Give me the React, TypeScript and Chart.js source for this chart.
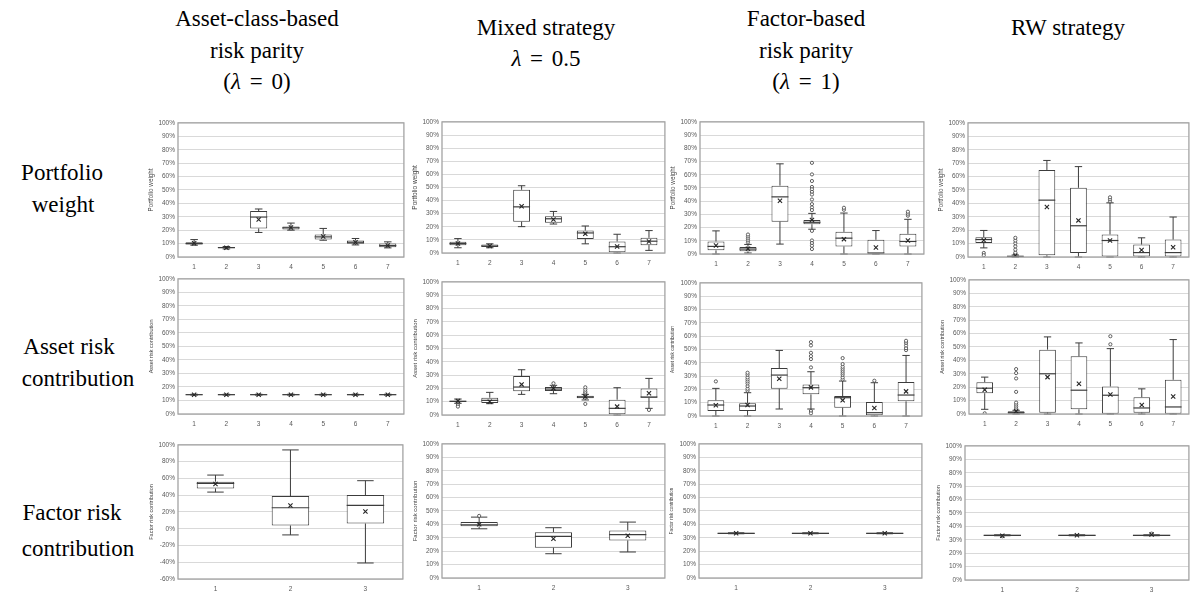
import React, { useEffect, useRef } from 'react';
import { Chart, registerables } from 'chart.js';

Chart.register(...registerables);

// ---------- categories ----------
const assetLabels = ['1', '2', '3', '4', '5', '6', '7'];
const factorLabels = ['1', '2', '3'];

// ---------- box statistics: [min, q1, median, q3, max] (in %) ----------
// Row 1: Portfolio weight
const wRpBox = [
  [8.8, 9.3, 10, 11, 13],
  [6, 6.6, 7, 7.3, 7.8],
  [18.3, 21.3, 29.8, 34.3, 35.8],
  [20, 20.5, 21.8, 22.8, 25.3],
  [12.5, 13, 15, 16.8, 21.3],
  [9, 9.8, 11, 12.3, 13.8],
  [6.8, 7.3, 8.5, 10, 11.3],
];
const wRpMean = [10.3, 6.9, 28, 22, 15.3, 11, 8.6];
const wRpOut: number[][] = [[], [], [], [], [], [], []];

const wMixBox = [
  [4, 6, 7.2, 8.5, 11],
  [4, 4.5, 5.3, 6.5, 7],
  [20.1, 23.9, 35.2, 48.2, 51.3],
  [22.1, 23.1, 26.1, 28.1, 31.7],
  [7, 10.6, 15.3, 17.1, 20.6],
  [0, 0.5, 4.8, 8.8, 14.3],
  [2, 6, 9, 11.6, 17.1],
];
const wMixMean = [7.2, 5.3, 35.7, 25.5, 14.6, 5, 8.8];
const wMixOut: number[][] = [[], [], [], [], [], [], []];

const wFacBox = [
  [0, 2.75, 5.75, 9.5, 17.5],
  [0.75, 2, 3.75, 5.25, 7.25],
  [7.5, 24.5, 43.25, 51.75, 68.25],
  [18.75, 22.5, 24, 25.75, 30.75],
  [0, 5.75, 12, 16.75, 31],
  [0, 0.25, 0.75, 10.75, 17.75],
  [0, 5.75, 9.5, 15.25, 26.25],
];
const wFacMean = [6.5, 4, 40.25, 25.75, 11.25, 5, 10.25];
const wFacOut = [
  [],
  [8.75, 10.25, 11.75, 13.25, 14.75],
  [],
  [69, 60.25, 55.25, 50.75, 49, 47, 45, 41.25, 37.75, 35.25, 33.25, 17.5, 10.25, 8.25, 6.25, 3.75],
  [33.5, 35],
  [],
  [29, 30.5, 32],
];

const wRwBox = [
  [6.8, 10.5, 13, 14.8, 19.8],
  [0, 0.2, 0.5, 1, 1.5],
  [0, 1.3, 42.4, 64.9, 72],
  [0, 3, 23.3, 51.6, 67.4],
  [0, 0, 12.3, 16.8, 40.4],
  [0, 0.3, 3.3, 9.3, 14.3],
  [0, 0.3, 3.3, 13, 29.8],
];
const wRwMean = [12.5, 1, 37.3, 27.3, 12.3, 5.3, 7.3];
const wRwOut = [[3, 1.3], [3.3, 5.5, 8, 10.3, 12.3, 14.3], [], [], [41.5, 43, 44.5], [], []];

// Row 2: Asset risk contribution
const rcRpBox = [
  [14.0, 14.0, 14.29, 14.6, 14.6],
  [14.0, 14.0, 14.29, 14.6, 14.6],
  [14.0, 14.0, 14.29, 14.6, 14.6],
  [14.0, 14.0, 14.29, 14.6, 14.6],
  [14.0, 14.0, 14.29, 14.6, 14.6],
  [14.0, 14.0, 14.29, 14.6, 14.6],
  [14.0, 14.0, 14.29, 14.6, 14.6],
];
const rcRpMean = [14.29, 14.29, 14.29, 14.29, 14.29, 14.29, 14.29];
const rcRpOut: number[][] = [[], [], [], [], [], [], []];

const rcMixBox = [
  [8.8, 9.8, 10.3, 10.8, 12],
  [8.5, 9, 11, 13, 17],
  [15.5, 17.8, 21, 29.3, 34],
  [16, 18, 19.5, 21, 22.3],
  [11.3, 12.5, 13.5, 14.5, 15.5],
  [0, 0.5, 5, 11.5, 20.5],
  [5, 13, 13.5, 20, 27.5],
];
const rcMixMean = [10.5, 10, 23, 20, 13.8, 6.3, 16.3];
const rcMixOut = [[7.5, 6.3], [], [], [23.8], [16.5, 17.5, 19, 20.8, 8.3], [], [3.8]];

const rcFacBox = [
  [0, 3.75, 8.25, 11.75, 20.75],
  [0, 3.75, 7.5, 9.5, 17.5],
  [5.25, 20.5, 30.75, 36, 49.25],
  [5.25, 16.25, 21.25, 23.75, 33.25],
  [0, 6.25, 13.75, 15, 26.25],
  [0, 0.5, 2.5, 10.5, 25],
  [0, 11, 15.75, 25.5, 45.5],
];
const rcFacMean = [8, 8.25, 28, 21.5, 11.75, 6, 18.5];
const rcFacOut = [
  [26],
  [19, 20.5, 22.5, 24.5, 26, 27.5, 29, 31, 32.5],
  [],
  [36.5, 42.75, 45, 47.5, 53, 55.5, 3.75, 2],
  [27.5, 29, 31, 32.5, 34, 35.5, 37, 39, 43.5],
  [26.5],
  [49.5, 51, 53, 55, 56.5],
];

const rcRwBox = [
  [3.5, 15.5, 19.25, 23.75, 27.5],
  [0, 0.25, 1, 2, 2.75],
  [0, 1, 30, 48, 57.5],
  [0, 3.5, 17.75, 43, 53],
  [0, 0.25, 14, 20.5, 48.75],
  [0, 1, 4.5, 12.5, 18.75],
  [0, 0.25, 5.25, 25.5, 55.5],
];
const rcRwMean = [18, 2, 27.5, 22.5, 14.5, 6.75, 13];
const rcRwOut = [[0.5], [4, 5.5, 7, 8.5, 16.5, 26.5, 30.5, 33.5], [], [], [52, 58], [], []];

// Row 3: Factor risk contribution
const frRpBox = [
  [43.7, 48.1, 54, 56.1, 64],
  [-7.4, 3.8, 25, 39, 94],
  [-40.9, 6.2, 27.8, 40.1, 57.3],
];
const frRpMean = [53.3, 27.8, 20.6];
const frRpOut: number[][] = [[], [], []];

const frMixBox = [
  [36.7, 38.5, 39.7, 41.7, 45.4],
  [18.1, 22.6, 31, 34.2, 37.5],
  [19.4, 28, 32.3, 35.5, 41.7],
];
const frMixMean = [40, 29.3, 31.5];
const frMixOut = [[46.3], [], []];

const frFacBox = [
  [33.0, 33.0, 33.33, 33.7, 33.7],
  [33.0, 33.0, 33.33, 33.7, 33.7],
  [33.0, 33.0, 33.33, 33.7, 33.7],
];
const frFacMean = [33.33, 33.33, 33.33];
const frFacOut: number[][] = [[], [], []];

const frRwBox = [
  [33.0, 33.0, 33.33, 33.7, 33.7],
  [33.0, 33.0, 33.33, 33.7, 33.7],
  [33.0, 33.0, 33.33, 33.7, 33.7],
];
const frRwMean = [33.0, 33.33, 34.0];
const frRwOut = [[32.6], [], [34.6]];

// ---------- text ----------
const yTitles = ['Portfolio weight', 'Asset risk contribution', 'Factor risk contribution'];

// ---------- styling ----------
const BOX = '#3c3c3c';
const TICK = '#595959';
const GRID = '#d9d9d9';
const FRAME = '#a3a3a3';
const SANS = "'Liberation Sans', Arial, sans-serif";
const SERIF = "'Liberation Serif', 'Times New Roman', serif";
const PAD_L = 40;
const PAD_T = 6;
const PAD_R = 4;
const PAD_B = 18;

type Panel = {
  labels: string[];
  box: number[][];
  mean: number[];
  out: number[][];
  title: string;
  rect: number[];
  yMin: number;
  yMax: number;
  yStep: number;
  titleSize: number;
  barPct: number;
};

const panels: Panel[] = [
  { labels: assetLabels, box: wRpBox, mean: wRpMean, out: wRpOut, title: yTitles[0], rect: [178, 122, 405, 257], yMin: 0, yMax: 100, yStep: 10, titleSize: 6.3, barPct: 0.53 },
  { labels: assetLabels, box: wMixBox, mean: wMixMean, out: wMixOut, title: yTitles[0], rect: [442, 121, 666, 253], yMin: 0, yMax: 100, yStep: 10, titleSize: 6.5, barPct: 0.53 },
  { labels: assetLabels, box: wFacBox, mean: wFacMean, out: wFacOut, title: yTitles[0], rect: [700, 121, 925, 254], yMin: 0, yMax: 100, yStep: 10, titleSize: 6.3, barPct: 0.53 },
  { labels: assetLabels, box: wRwBox, mean: wRwMean, out: wRwOut, title: yTitles[0], rect: [968, 122, 1190, 257], yMin: 0, yMax: 100, yStep: 10, titleSize: 6.3, barPct: 0.53 },
  { labels: assetLabels, box: rcRpBox, mean: rcRpMean, out: rcRpOut, title: yTitles[1], rect: [178, 278, 405, 414], yMin: 0, yMax: 100, yStep: 10, titleSize: 5.5, barPct: 0.53 },
  { labels: assetLabels, box: rcMixBox, mean: rcMixMean, out: rcMixOut, title: yTitles[1], rect: [442, 281, 666, 415], yMin: 0, yMax: 100, yStep: 10, titleSize: 6, barPct: 0.53 },
  { labels: assetLabels, box: rcFacBox, mean: rcFacMean, out: rcFacOut, title: yTitles[1], rect: [700, 282, 923, 416], yMin: 0, yMax: 100, yStep: 10, titleSize: 4.8, barPct: 0.53 },
  { labels: assetLabels, box: rcRwBox, mean: rcRwMean, out: rcRwOut, title: yTitles[1], rect: [969, 279, 1190, 414], yMin: 0, yMax: 100, yStep: 10, titleSize: 5.5, barPct: 0.53 },
  { labels: factorLabels, box: frRpBox, mean: frRpMean, out: frRpOut, title: yTitles[2], rect: [178, 444, 404, 579], yMin: -60, yMax: 100, yStep: 20, titleSize: 5.5, barPct: 0.5 },
  { labels: factorLabels, box: frMixBox, mean: frMixMean, out: frMixOut, title: yTitles[2], rect: [442, 443, 666, 578], yMin: 0, yMax: 100, yStep: 10, titleSize: 6, barPct: 0.5 },
  { labels: factorLabels, box: frFacBox, mean: frFacMean, out: frFacOut, title: yTitles[2], rect: [699, 443, 923, 578], yMin: 0, yMax: 100, yStep: 10, titleSize: 4.6, barPct: 0.5 },
  { labels: factorLabels, box: frRwBox, mean: frRwMean, out: frRwOut, title: yTitles[2], rect: [965, 445, 1190, 580], yMin: 0, yMax: 100, yStep: 10, titleSize: 5.5, barPct: 0.5 },
];

function BoxPanel({ p }: { p: Panel }) {
  const ref = useRef<HTMLCanvasElement>(null);
  const [l, t, r, b] = p.rect;
  const w = r - l + PAD_L + PAD_R;
  const h = b - t + PAD_T + PAD_B;

  useEffect(() => {
    if (!ref.current) return;
    const stats = p.box;
    const whiskerPlugin = {
      id: 'whiskers',
      afterDatasetDraw(chart: any, args: any) {
        if (args.index !== 0) return;
        const meta = chart.getDatasetMeta(0);
        const ys = chart.scales.y;
        const ctx = chart.ctx;
        ctx.save();
        ctx.strokeStyle = BOX;
        ctx.lineWidth = 1;
        meta.data.forEach((el: any, i: number) => {
          const s = stats[i];
          const { x, width } = el.getProps(['x', 'width'], true);
          const pMin = ys.getPixelForValue(s[0]);
          const pQ1 = ys.getPixelForValue(s[1]);
          const pMed = ys.getPixelForValue(s[2]);
          const pQ3 = ys.getPixelForValue(s[3]);
          const pMax = ys.getPixelForValue(s[4]);
          const cap = width * 0.22;
          ctx.beginPath();
          ctx.moveTo(x, pQ3);
          ctx.lineTo(x, pMax);
          ctx.moveTo(x - cap, pMax);
          ctx.lineTo(x + cap, pMax);
          ctx.moveTo(x, pQ1);
          ctx.lineTo(x, pMin);
          ctx.moveTo(x - cap, pMin);
          ctx.lineTo(x + cap, pMin);
          ctx.stroke();
          ctx.beginPath();
          ctx.lineWidth = 1.2;
          ctx.moveTo(x - width / 2, pMed);
          ctx.lineTo(x + width / 2, pMed);
          ctx.stroke();
          ctx.lineWidth = 1;
        });
        ctx.restore();
      },
      afterDraw(chart: any) {
        const a = chart.chartArea;
        const ctx = chart.ctx;
        ctx.save();
        ctx.strokeStyle = FRAME;
        ctx.lineWidth = 1.3;
        ctx.strokeRect(a.left, a.top, a.right - a.left, a.bottom - a.top);
        ctx.restore();
      },
    };

    const outPts: { x: string; y: number }[] = [];
    p.out.forEach((vals, i) => vals.forEach((v) => outPts.push({ x: p.labels[i], y: v })));

    const chart = new Chart(ref.current, {
      type: 'bar',
      data: {
        labels: p.labels,
        datasets: [
          {
            type: 'bar',
            data: p.box.map((s) => [s[1], s[3]]),
            backgroundColor: '#ffffff',
            borderColor: BOX,
            borderWidth: 1,
            borderSkipped: false,
            barPercentage: p.barPct,
            categoryPercentage: 1,
            order: 3,
          } as any,
          {
            type: 'line',
            data: p.mean,
            showLine: false,
            pointStyle: 'crossRot',
            pointRadius: 3,
            borderColor: '#262626',
            borderWidth: 1.1,
            order: 1,
          } as any,
          {
            type: 'line',
            data: outPts,
            showLine: false,
            pointStyle: 'circle',
            pointRadius: 1.6,
            borderColor: BOX,
            backgroundColor: '#ffffff',
            borderWidth: 0.8,
            order: 2,
          } as any,
        ],
      },
      options: {
        responsive: false,
        animation: false,
        events: [],
        layout: { padding: { top: PAD_T, right: PAD_R, left: 0, bottom: 0 } },
        plugins: { legend: { display: false }, tooltip: { enabled: false } },
        scales: {
          x: {
            type: 'category',
            offset: true,
            grid: { display: false, drawTicks: false },
            border: { display: false },
            ticks: { color: TICK, font: { size: 6.5, family: SANS }, padding: 6, maxRotation: 0, autoSkip: false },
            afterFit: (s: any) => {
              s.height = PAD_B;
            },
          },
          y: {
            min: p.yMin,
            max: p.yMax,
            grid: { color: GRID, lineWidth: 1, drawTicks: false },
            border: { display: false },
            ticks: {
              stepSize: p.yStep,
              color: TICK,
              font: { size: 6.5, family: SANS },
              padding: 3,
              callback: (v: any) => `${v}%`,
            },
            title: {
              display: true,
              text: p.title,
              color: '#404040',
              font: { size: p.titleSize, family: SANS },
              padding: { top: 13 - (p.titleSize * 1.2) / 2, bottom: 0 },
            },
            afterFit: (s: any) => {
              s.width = PAD_L;
            },
          },
        },
      } as any,
      plugins: [whiskerPlugin],
    });
    return () => chart.destroy();
  }, [p]);

  return (
    <canvas
      ref={ref}
      width={w}
      height={h}
      style={{ position: 'absolute', left: l - PAD_L, top: t - PAD_T, width: w, height: h }}
    />
  );
}

function Txt({ x, y, children }: { x: number; y: number; children: React.ReactNode }) {
  return (
    <div
      style={{
        position: 'absolute',
        left: x,
        top: y,
        transform: 'translate(-50%, -50%)',
        whiteSpace: 'nowrap',
        fontFamily: SERIF,
        fontSize: 23,
        lineHeight: 1,
        color: '#000',
      }}
    >
      {children}
    </div>
  );
}

const L = () => <i style={{ fontFamily: SERIF }}>λ</i>;
const Eq = () => <span style={{ margin: '0 3px' }}>=</span>;

export default function App() {
  return (
    <div
      style={{
        position: 'absolute',
        left: 0,
        top: 0,
        width: 1195,
        height: 593,
        overflow: 'hidden',
        background: '#ffffff',
      }}
    >
      <Txt x={257} y={18}>Asset-class-based</Txt>
      <Txt x={257} y={50}>risk parity</Txt>
      <Txt x={257} y={81}>(<L /> <Eq /> 0)</Txt>
      <Txt x={546} y={27}>Mixed strategy</Txt>
      <Txt x={546} y={58}><L /> <Eq /> 0.5</Txt>
      <Txt x={806} y={18}>Factor-based</Txt>
      <Txt x={806} y={50}>risk parity</Txt>
      <Txt x={806} y={81}>(<L /> <Eq /> 1)</Txt>
      <Txt x={1068} y={27}>RW strategy</Txt>

      <Txt x={62} y={172}>Portfolio</Txt>
      <Txt x={63} y={204}>weight</Txt>
      <Txt x={69} y={346}>Asset risk</Txt>
      <Txt x={78} y={378}>contribution</Txt>
      <Txt x={72} y={512}>Factor risk</Txt>
      <Txt x={78} y={548}>contribution</Txt>

      {panels.map((p, i) => (
        <BoxPanel key={i} p={p} />
      ))}
    </div>
  );
}
